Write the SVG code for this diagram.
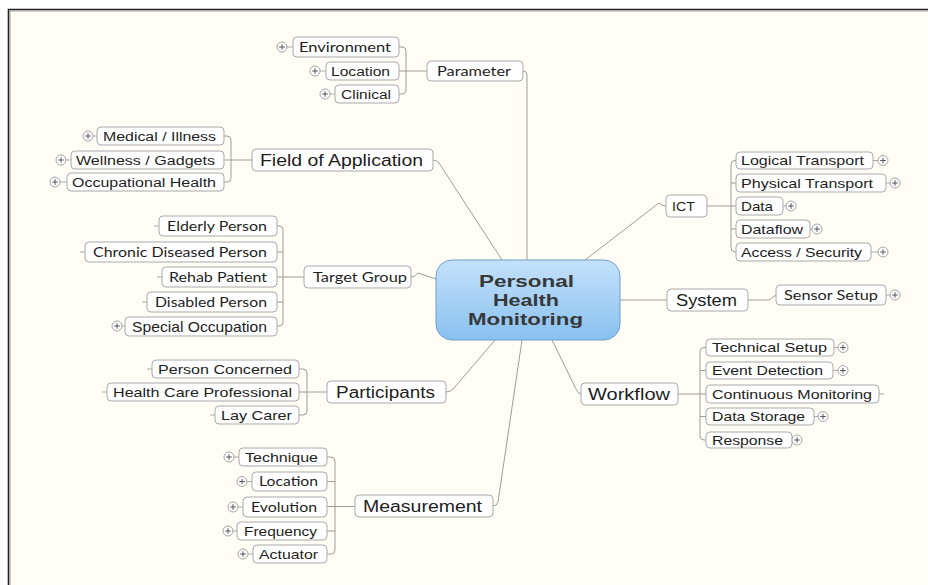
<svg xmlns="http://www.w3.org/2000/svg" xmlns:xlink="http://www.w3.org/1999/xlink" width="928" height="585" viewBox="0 0 928 585">
  <defs>
    <linearGradient id="hubFill" x1="0" y1="0" x2="0" y2="1">
      <stop offset="0" stop-color="#c4e1fa"/>
      <stop offset="1" stop-color="#88c1f0"/>
    </linearGradient>
    <g id="plus">
      <circle r="5" fill="#fff" stroke="#9a9a9a" stroke-width="0.9"/>
      <path d="M-2.8,0H2.8M0,-2.8V2.8" stroke="#555" stroke-width="1"/>
    </g>
  </defs>
  <style>
    .box { fill: #fff; stroke: #a9a9a9; stroke-width: 1; }
    .conn { fill: none; stroke: #9c9c9c; stroke-width: 1; }
    .stub { fill: none; stroke: #a9a9a9; stroke-width: 1; }
    .a { font-family: "Liberation Sans", Arial, sans-serif; fill: #1e1e1e; }
    .c { font-family: Lato, "Liberation Sans", sans-serif; fill: #1e1e1e; }
    .s { font-size: 12.5px; }
    .m { font-size: 13px; }
    .l { font-size: 16px; }
    .hub { font-family: "Liberation Sans", Arial, sans-serif; font-weight: bold; font-size: 16.5px; fill: #383838; }
  </style>

  <!-- canvas -->
  <rect x="0" y="0" width="928" height="585" fill="#fff"/>
  <rect x="9" y="10" width="919" height="575" fill="#fffdf6"/>
  <path d="M8.5,585V9.5H928" fill="none" stroke="#222" stroke-width="1.6"/>
  <path d="M10,585V11H928" fill="none" stroke="#8a8a8a" stroke-width="0.8"/>

  <!-- connectors -->
  <g id="connectors">
    <path class="conn" d="M523,71Q527,71 527,75V260"/>
    <path class="conn" d="M433,160Q437,160 439,163L502,260"/>
    <path class="conn" d="M411,277Q415,277 418,273L436,279"/>
    <path class="conn" d="M446,392Q451,392 454,388L495,340"/>
    <path class="conn" d="M493,506Q497,506 498,502L522,340"/>
    <path class="conn" d="M666,206Q662,206 659,203L585,260"/>
    <path class="conn" d="M620,300H667"/>
    <path class="conn" d="M748,300H768Q771,300 773,297L776,295"/>
    <path class="conn" d="M552,340L576,389Q578,394 581,394"/>
    <!-- sub-topic brackets -->
    <path class="conn" d="M399,47H402Q406,47 406,51V90Q406,94 402,94H399M399,71H427"/>
    <path class="conn" d="M224,136H227Q231,136 231,140V178Q231,182 227,182H224M224,160H252"/>
    <path class="conn" d="M277,226H279Q283,226 283,230V322Q283,326 279,326H277M277,252H283M277,277H304M277,302H283"/>
    <path class="conn" d="M299,369H303Q307,369 307,373V411Q307,415 303,415H299M299,392H327"/>
    <path class="conn" d="M327,457H331Q335,457 335,461V550Q335,554 331,554H327M327,481.5H335M327,506.5H355M327,531H335"/>
    <path class="conn" d="M736,160.5H735Q731,160.5 731,164.5V248Q731,252 735,252H736M736,183H731M707,206H736M736,229H731"/>
    <path class="conn" d="M706,347.5H704Q700,347.5 700,351.5V436Q700,440 704,440H706M706,370.5H700M678,394H706M706,416.5H700"/>
  </g>

  <!-- central topic -->
  <g id="personal-health-monitoring">
    <rect x="436" y="260" width="184" height="80" rx="16" fill="url(#hubFill)" stroke="#6e9fc9" stroke-width="1"/>
    <text class="hub" x="479" y="286.5" textLength="95" lengthAdjust="spacingAndGlyphs">Personal</text>
    <text class="hub" x="493" y="305.5" textLength="66" lengthAdjust="spacingAndGlyphs">Health</text>
    <text class="hub" x="468" y="324.5" textLength="115" lengthAdjust="spacingAndGlyphs">Monitoring</text>
  </g>

  <!-- Parameter branch -->
  <g id="parameter">
    <rect class="box" x="427" y="61" width="96" height="20" rx="4"/>
    <text class="c m" x="437" y="75.6" textLength="74" lengthAdjust="spacingAndGlyphs">Parameter</text>
  </g>
  <g id="environment">
    <rect class="box" x="293" y="37" width="106" height="20" rx="4"/>
    <text class="c s" x="299" y="51.5" textLength="92" lengthAdjust="spacingAndGlyphs">Environment</text>
    <path class="stub" d="M287,47H293"/><use href="#plus" x="282" y="47"/>
  </g>
  <g id="parameter-location">
    <rect class="box" x="326" y="62" width="73" height="18" rx="4"/>
    <text class="a s" x="331" y="75.5" textLength="59" lengthAdjust="spacingAndGlyphs">Location</text>
    <path class="stub" d="M320,71H326"/><use href="#plus" x="315" y="71"/>
  </g>
  <g id="clinical">
    <rect class="box" x="335" y="85" width="64" height="18" rx="4"/>
    <text class="a s" x="341" y="98.5" textLength="50" lengthAdjust="spacingAndGlyphs">Clinical</text>
    <path class="stub" d="M330,94H335"/><use href="#plus" x="325" y="94"/>
  </g>

  <!-- Field of Application branch -->
  <g id="field-of-application">
    <rect class="box" x="252" y="149" width="181" height="22" rx="4"/>
    <text class="a l" x="260" y="165.7" textLength="163" lengthAdjust="spacingAndGlyphs">Field of Application</text>
  </g>
  <g id="medical-illness">
    <rect class="box" x="97" y="127" width="127" height="18" rx="4"/>
    <text class="a s" x="103" y="140.5" textLength="113" lengthAdjust="spacingAndGlyphs">Medical / Illness</text>
    <path class="stub" d="M93,136H97"/><use href="#plus" x="88" y="136"/>
  </g>
  <g id="wellness-gadgets">
    <rect class="box" x="71" y="151" width="153" height="18" rx="4"/>
    <text class="a s" x="76" y="164.5" textLength="139" lengthAdjust="spacingAndGlyphs">Wellness / Gadgets</text>
    <path class="stub" d="M66,160H71"/><use href="#plus" x="61" y="160"/>
  </g>
  <g id="occupational-health">
    <rect class="box" x="67" y="173" width="157" height="18" rx="4"/>
    <text class="a s" x="72" y="186.5" textLength="144" lengthAdjust="spacingAndGlyphs">Occupational Health</text>
    <path class="stub" d="M60,182H67"/><use href="#plus" x="55" y="182"/>
  </g>

  <!-- Target Group branch -->
  <g id="target-group">
    <rect class="box" x="304" y="266" width="107" height="22" rx="4"/>
    <text class="c m" x="313" y="281.7" textLength="94" lengthAdjust="spacingAndGlyphs">Target Group</text>
  </g>
  <g id="elderly-person">
    <rect class="box" x="159" y="216" width="118" height="20" rx="4"/>
    <text class="c m" x="167" y="230.7" textLength="100" lengthAdjust="spacingAndGlyphs">Elderly Person</text>
    <path class="stub" d="M154,226H159"/>
  </g>
  <g id="chronic-diseased-person">
    <rect class="box" x="85" y="242" width="192" height="20" rx="4"/>
    <text class="c m" x="93" y="256.7" textLength="174" lengthAdjust="spacingAndGlyphs">Chronic Diseased Person</text>
    <path class="stub" d="M80,252H85"/>
  </g>
  <g id="rehab-patient">
    <rect class="box" x="162" y="267" width="115" height="20" rx="4"/>
    <text class="c m" x="169" y="281.7" textLength="98" lengthAdjust="spacingAndGlyphs">Rehab Patient</text>
    <path class="stub" d="M157,277H162"/>
  </g>
  <g id="disabled-person">
    <rect class="box" x="147" y="292" width="130" height="20" rx="4"/>
    <text class="c m" x="155" y="306.7" textLength="112" lengthAdjust="spacingAndGlyphs">Disabled Person</text>
    <path class="stub" d="M142,302H147"/>
  </g>
  <g id="special-occupation">
    <rect class="box" x="125" y="317" width="152" height="19" rx="4"/>
    <text class="a" font-size="15" x="132" y="331.5" textLength="135" lengthAdjust="spacingAndGlyphs">Special Occupation</text>
    <path class="stub" d="M122,326H125"/><use href="#plus" x="117" y="326"/>
  </g>

  <!-- Participants branch -->
  <g id="participants">
    <rect class="box" x="327" y="381" width="119" height="22" rx="4"/>
    <text class="a l" x="336" y="397.7" textLength="99" lengthAdjust="spacingAndGlyphs">Participants</text>
  </g>
  <g id="person-concerned">
    <rect class="box" x="152" y="360" width="147" height="18" rx="4"/>
    <text class="a m" x="158" y="373.7" textLength="134" lengthAdjust="spacingAndGlyphs">Person Concerned</text>
    <path class="stub" d="M147,369H152"/>
  </g>
  <g id="health-care-professional">
    <rect class="box" x="107" y="383" width="192" height="18" rx="4"/>
    <text class="a m" x="113" y="396.7" textLength="179" lengthAdjust="spacingAndGlyphs">Health Care Professional</text>
    <path class="stub" d="M102,392H107"/>
  </g>
  <g id="lay-carer">
    <rect class="box" x="215" y="406" width="84" height="18" rx="4"/>
    <text class="a m" x="221" y="419.7" textLength="71" lengthAdjust="spacingAndGlyphs">Lay Carer</text>
    <path class="stub" d="M210,415H215"/>
  </g>

  <!-- Measurement branch -->
  <g id="measurement">
    <rect class="box" x="355" y="495" width="138" height="22" rx="4"/>
    <text class="a l" x="363" y="512.2" textLength="119" lengthAdjust="spacingAndGlyphs">Measurement</text>
  </g>
  <g id="technique">
    <rect class="box" x="239" y="448" width="88" height="18" rx="4"/>
    <text class="a m" x="245" y="461.7" textLength="73" lengthAdjust="spacingAndGlyphs">Technique</text>
    <path class="stub" d="M234,457H239"/><use href="#plus" x="229" y="457"/>
  </g>
  <g id="measurement-location">
    <rect class="box" x="252" y="472" width="75" height="19" rx="4"/>
    <text class="c m" x="259" y="486.2" textLength="59" lengthAdjust="spacingAndGlyphs">Location</text>
    <path class="stub" d="M247,481.5H252"/><use href="#plus" x="242" y="481.5"/>
  </g>
  <g id="evolution">
    <rect class="box" x="243" y="497" width="84" height="20" rx="4"/>
    <text class="c m" x="251" y="511.7" textLength="66" lengthAdjust="spacingAndGlyphs">Evolution</text>
    <path class="stub" d="M238,507H243"/><use href="#plus" x="233" y="507"/>
  </g>
  <g id="frequency">
    <rect class="box" x="237" y="522" width="90" height="18" rx="4"/>
    <text class="a m" x="244" y="535.7" textLength="73" lengthAdjust="spacingAndGlyphs">Frequency</text>
    <path class="stub" d="M233,531H237"/><use href="#plus" x="228" y="531"/>
  </g>
  <g id="actuator">
    <rect class="box" x="253" y="545" width="74" height="18" rx="4"/>
    <text class="a m" x="259" y="558.7" textLength="59" lengthAdjust="spacingAndGlyphs">Actuator</text>
    <path class="stub" d="M248,554H253"/><use href="#plus" x="243" y="554"/>
  </g>

  <!-- ICT branch -->
  <g id="ict">
    <rect class="box" x="666" y="195" width="41" height="22" rx="4"/>
    <text class="a s" x="672" y="210.5" textLength="23" lengthAdjust="spacingAndGlyphs">ICT</text>
  </g>
  <g id="logical-transport">
    <rect class="box" x="736" y="152" width="137" height="17" rx="4"/>
    <text class="a m" x="741" y="165.2" textLength="123" lengthAdjust="spacingAndGlyphs">Logical Transport</text>
    <path class="stub" d="M873,160.5H878"/><use href="#plus" x="883" y="160.5"/>
  </g>
  <g id="physical-transport">
    <rect class="box" x="736" y="174" width="150" height="18" rx="4"/>
    <text class="a m" x="741" y="187.7" textLength="132" lengthAdjust="spacingAndGlyphs">Physical Transport</text>
    <path class="stub" d="M886,183H890"/><use href="#plus" x="895" y="183"/>
  </g>
  <g id="data">
    <rect class="box" x="736" y="197" width="47" height="18" rx="4"/>
    <text class="a m" x="741" y="210.7" textLength="32" lengthAdjust="spacingAndGlyphs">Data</text>
    <path class="stub" d="M783,206H786"/><use href="#plus" x="791" y="206"/>
  </g>
  <g id="dataflow">
    <rect class="box" x="736" y="220" width="74" height="18" rx="4"/>
    <text class="a m" x="741" y="233.7" textLength="62" lengthAdjust="spacingAndGlyphs">Dataflow</text>
    <path class="stub" d="M810,229H812"/><use href="#plus" x="817" y="229"/>
  </g>
  <g id="access-security">
    <rect class="box" x="736" y="243" width="135" height="18" rx="4"/>
    <text class="a m" x="741" y="256.7" textLength="121" lengthAdjust="spacingAndGlyphs">Access / Security</text>
    <path class="stub" d="M871,252H878"/><use href="#plus" x="883" y="252"/>
  </g>

  <!-- System branch -->
  <g id="system">
    <rect class="box" x="667" y="289" width="81" height="22" rx="4"/>
    <text class="a l" x="676" y="305.7" textLength="61" lengthAdjust="spacingAndGlyphs">System</text>
  </g>
  <g id="sensor-setup">
    <rect class="box" x="776" y="285" width="110" height="20" rx="4"/>
    <text class="c m" x="784" y="299.7" textLength="94" lengthAdjust="spacingAndGlyphs">Sensor Setup</text>
    <path class="stub" d="M886,295H890"/><use href="#plus" x="895" y="295"/>
  </g>

  <!-- Workflow branch -->
  <g id="workflow">
    <rect class="box" x="581" y="383" width="97" height="22" rx="4"/>
    <text class="a l" x="588" y="399.7" textLength="82" lengthAdjust="spacingAndGlyphs">Workflow</text>
  </g>
  <g id="technical-setup">
    <rect class="box" x="706" y="339" width="128" height="17" rx="4"/>
    <text class="a m" x="712" y="352.2" textLength="115" lengthAdjust="spacingAndGlyphs">Technical Setup</text>
    <path class="stub" d="M834,347.5H838"/><use href="#plus" x="843" y="347.5"/>
  </g>
  <g id="event-detection">
    <rect class="box" x="706" y="362" width="127" height="17" rx="4"/>
    <text class="a m" x="712" y="375.2" textLength="111" lengthAdjust="spacingAndGlyphs">Event Detection</text>
    <path class="stub" d="M833,370.5H838"/><use href="#plus" x="843" y="370.5"/>
  </g>
  <g id="continuous-monitoring">
    <rect class="box" x="706" y="385" width="173" height="18" rx="4"/>
    <text class="a m" x="712" y="398.7" textLength="160" lengthAdjust="spacingAndGlyphs">Continuous Monitoring</text>
    <path class="stub" d="M879,394H884"/>
  </g>
  <g id="data-storage">
    <rect class="box" x="706" y="408" width="108" height="17" rx="4"/>
    <text class="a m" x="712" y="421.2" textLength="93" lengthAdjust="spacingAndGlyphs">Data Storage</text>
    <path class="stub" d="M814,416.5H818"/><use href="#plus" x="823" y="416.5"/>
  </g>
  <g id="response">
    <rect class="box" x="706" y="432" width="86" height="16" rx="4"/>
    <text class="a m" x="712" y="444.7" textLength="71" lengthAdjust="spacingAndGlyphs">Response</text>
    <use href="#plus" x="797" y="440"/>
  </g>
</svg>
